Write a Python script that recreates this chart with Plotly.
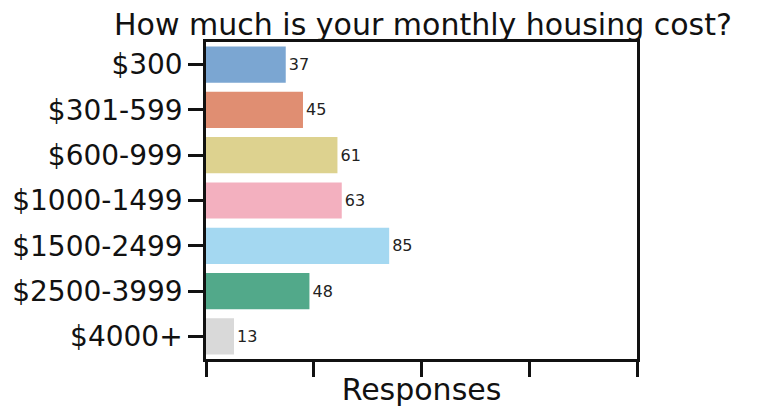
import plotly.graph_objects as go

categories = ["$300", "$301-599", "$600-999", "$1000-1499", "$1500-2499", "$2500-3999", "$4000+"]
responses = [37, 45, 61, 63, 85, 48, 13]
colors = ["#7BA6D2", "#E08E72", "#DDD28F", "#F3B0BF", "#A4D8F1", "#52A98A", "#D9D9D9"]
x_ticks = [0, 50, 100, 150, 200]

FONT = "DejaVu Sans"
W, H = 749, 405  # page body has an 8px margin

fig = go.Figure(
    go.Bar(
        x=responses,
        y=categories,
        orientation="h",
        marker=dict(color=colors, line=dict(width=0)),
        width=0.8,
        text=[str(v) for v in responses],
        textposition="outside",
        textfont=dict(family=FONT, size=16, color="#222222"),
        cliponaxis=False,
        constraintext="none",
    )
)

fig.update_layout(
    width=W,
    height=H,
    margin=dict(l=198, r=120, t=34, b=54, autoexpand=False),
    paper_bgcolor="white",
    plot_bgcolor="white",
    showlegend=False,
    font=dict(family=FONT, color="#111111"),
    title=dict(
        text="How much is your monthly housing cost?",
        font=dict(family=FONT, size=30, color="#111111"),
        xref="container", x=415 / W, xanchor="center",
        yref="container", y=1 - 16 / H, yanchor="middle",
    ),
    xaxis=dict(
        range=[0, 200],
        tickvals=x_ticks,
        showticklabels=False,
        ticks="outside",
        ticklen=15,
        tickwidth=2.5,
        tickcolor="#111111",
        showline=True,
        linewidth=2.5,
        linecolor="#111111",
        mirror=True,
        showgrid=False,
        zeroline=False,
        automargin=False,
        title=dict(text="Responses", font=dict(family=FONT, size=30, color="#111111"), standoff=4),
    ),
    yaxis=dict(
        autorange="reversed",
        ticks="outside",
        ticklen=15,
        tickwidth=2.5,
        tickcolor="#111111",
        showline=True,
        linewidth=2.5,
        linecolor="#111111",
        mirror=True,
        showgrid=False,
        zeroline=False,
        automargin=False,
        tickfont=dict(family=FONT, size=28, color="#111111"),
    ),
)

fig.write_html("out.html")
